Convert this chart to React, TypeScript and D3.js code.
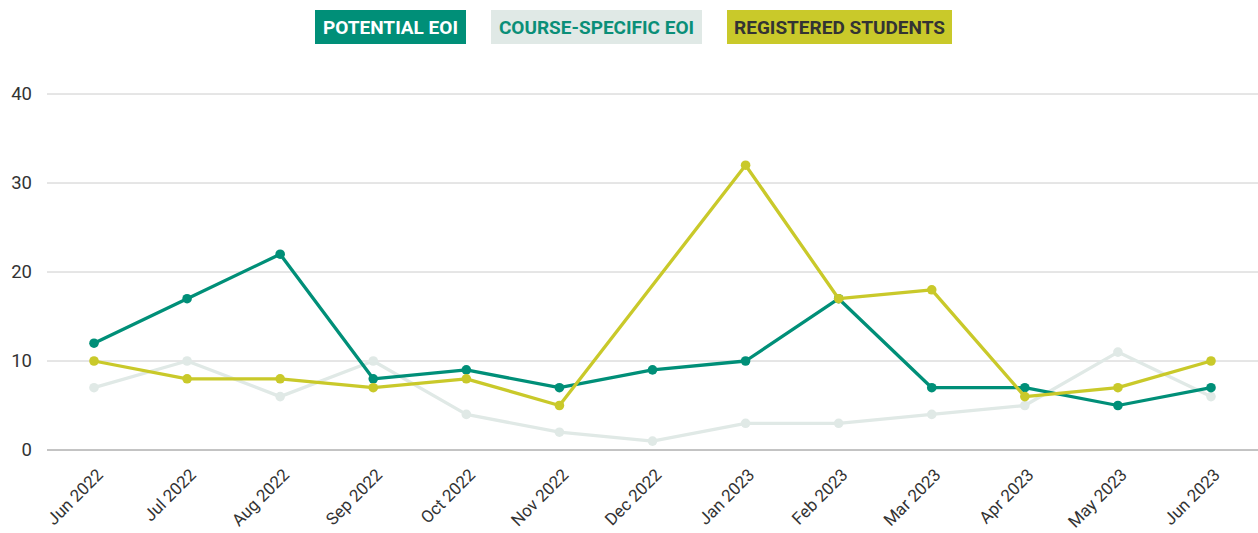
import { useEffect, useRef } from "react";
import * as d3 from "d3";

const months = ["Jun 2022", "Jul 2022", "Aug 2022", "Sep 2022", "Oct 2022", "Nov 2022", "Dec 2022", "Jan 2023", "Feb 2023", "Mar 2023", "Apr 2023", "May 2023", "Jun 2023"];
const potentialEoi = [12, 17, 22, 8, 9, 7, 9, 10, 17, 7, 7, 5, 7];
const courseEoi = [7, 10, 6, 10, 4, 2, 1, 3, 3, 4, 5, 11, 6];
const registered: (number | null)[] = [10, 8, 8, 7, 8, 5, null, 32, 17, 18, 6, 7, 10];
const yTicks = [0, 10, 20, 30, 40];

const series = [
  { name: "COURSE-SPECIFIC EOI", values: courseEoi, color: "#e0e9e6", text: "#0a8f78" },
  { name: "POTENTIAL EOI", values: potentialEoi, color: "#008f78", text: "#ffffff" },
  { name: "REGISTERED STUDENTS", values: registered, color: "#c9c92a", text: "#333333" },
];
const legendOrder = [1, 0, 2];

const W = 1258, H = 533;

const App = () => {
  const ref = useRef<SVGSVGElement>(null);

  useEffect(() => {
    const svg = d3.select(ref.current);
    svg.selectAll("*").remove();
    const font = "Roboto, sans-serif";

    const x = d3.scalePoint<string>().domain(months).range([94, 1211]);
    const y = d3.scaleLinear().domain([0, 40]).range([450, 94]);

    // grid
    const grid = svg.append("g");
    yTicks.forEach((t) => {
      grid.append("line")
        .attr("x1", 47).attr("x2", W)
        .attr("y1", y(t)).attr("y2", y(t))
        .attr("stroke", t === 0 ? "#888" : "#ccc")
        .attr("stroke-width", 1);
      grid.append("text")
        .attr("x", 32).attr("y", y(t))
        .attr("dy", "0.35em")
        .attr("text-anchor", "end")
        .attr("font-family", font).attr("font-size", 18.5)
        .attr("fill", "#333")
        .text(t);
    });

    // x labels
    months.forEach((m) => {
      svg.append("text")
        .attr("transform", `translate(${x(m)! + 10},${476}) rotate(-45)`)
        .attr("text-anchor", "end")
        .attr("font-family", font).attr("font-size", 17)
        .attr("fill", "#333")
        .text(m);
    });

    // lines
    series.forEach((s) => {
      const pts = months
        .map((m, i) => ({ m, v: s.values[i] }))
        .filter((d) => d.v !== null) as { m: string; v: number }[];
      svg.append("path")
        .datum(pts)
        .attr("fill", "none")
        .attr("stroke", s.color)
        .attr("stroke-width", 3.3)
        .attr("stroke-linejoin", "round")
        .attr("d", d3.line<{ m: string; v: number }>().x((d) => x(d.m)!).y((d) => y(d.v)));
      svg.append("g").selectAll("circle")
        .data(pts)
        .join("circle")
        .attr("cx", (d) => x(d.m)!)
        .attr("cy", (d) => y(d.v))
        .attr("r", 4.8)
        .attr("fill", s.color);
    });

    // legend
    const boxes = [
      { x: 315, w: 151 },
      { x: 491, w: 211 },
      { x: 727, w: 225 },
    ];
    legendOrder.forEach((si, i) => {
      const s = series[si];
      const b = boxes[i];
      svg.append("rect")
        .attr("x", b.x).attr("y", 10)
        .attr("width", b.w).attr("height", 34)
        .attr("fill", s.color);
      svg.append("text")
        .attr("x", b.x + b.w / 2).attr("y", 27)
        .attr("dy", "0.35em")
        .attr("text-anchor", "middle")
        .attr("font-family", font).attr("font-weight", 700).attr("font-size", 19)
        .attr("fill", s.text)
        .text(s.name);
    });
  }, []);

  return (
    <svg ref={ref} width={W} height={H} style={{ position: "absolute", left: 0, top: 0, background: "#fff" }} />
  );
};

export default App;
